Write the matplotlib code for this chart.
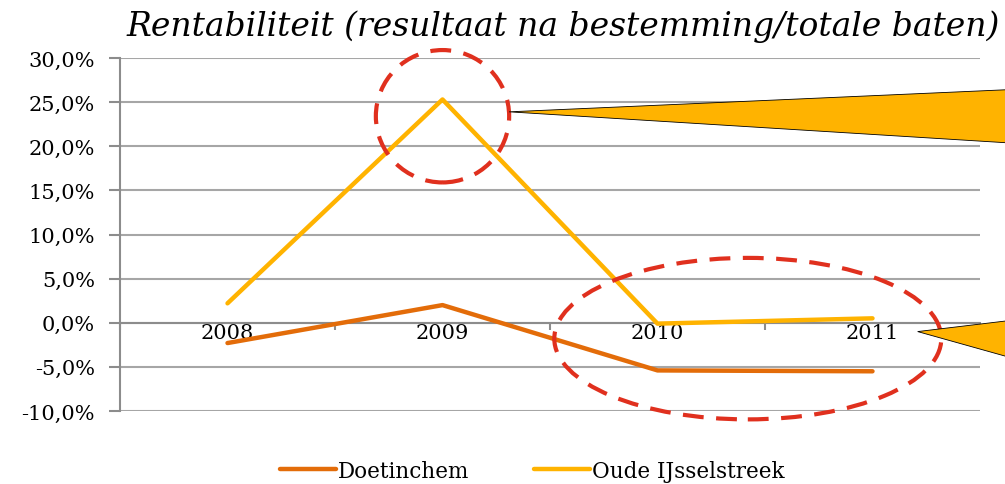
import matplotlib.pyplot as plt
import numpy as np
from matplotlib.patches import Ellipse, Polygon
from matplotlib.ticker import FuncFormatter, FixedLocator

years = ['2008', '2009', '2010', '2011']
doetinchem = [-2.3, 2.0, -5.4, -5.5]
oude_ijsselstreek = [2.2, 25.3, -0.1, 0.5]

plt.rcParams['font.family'] = ['DejaVu Serif']

fig = plt.figure(figsize=(10.05, 4.85), dpi=100)
ax = fig.add_axes([120 / 1005, 1 - 412 / 485, 860 / 1005, 353 / 485])

x = np.arange(len(years)) + 0.5
ax.plot(x, doetinchem, color='#E36C09', lw=3.2, solid_capstyle='round', label='Doetinchem', zorder=3)
ax.plot(x, oude_ijsselstreek, color='#FFB300', lw=3.2, solid_capstyle='round', label='Oude IJsselstreek', zorder=3)

ax.set_xlim(0, 4)
ax.set_ylim(-10, 30)
ax.set_yticks(np.arange(-10, 31, 5))
ax.yaxis.set_major_formatter(FuncFormatter(lambda v, p: f'{v:.1f}%'.replace('.', ',')))
ax.grid(axis='y', color='#A6A6A6', lw=1.5)
ax.set_axisbelow(True)

# category axis crosses at 0
ax.spines['bottom'].set_position(('data', 0))
ax.spines['bottom'].set_color('#8C8C8C')
ax.spines['bottom'].set_linewidth(1.5)
ax.spines['left'].set_color('#8C8C8C')
ax.spines['left'].set_linewidth(1.5)
ax.spines['top'].set_visible(False)
ax.spines['right'].set_visible(False)
ax.set_xticks(x)
ax.set_xticklabels(years)
ax.xaxis.set_minor_locator(FixedLocator([0, 1, 2, 3, 4]))
ax.tick_params(axis='x', which='major', length=0, pad=0, labelsize=15)
ax.tick_params(axis='x', which='minor', length=5, width=1.5, color='#8C8C8C')
ax.tick_params(axis='y', length=8, width=1.5, color='#8C8C8C', labelsize=15, pad=10)

fig.text(0.56, 0.925, 'Rentabiliteit (resultaat na bestemming/totale baten)',
         ha='center', va='baseline', fontsize=23.8, style='italic')

# annotation ellipses
red = '#E0301E'
ax.add_patch(Ellipse((1.5, 23.4), 0.62, 15, fill=False, ec=red, lw=3,
                     ls=(0, (5, 3)), clip_on=False, zorder=4))
ax.add_patch(Ellipse((2.92, -1.8), 1.8, 18.3, fill=False, ec=red, lw=3,
                     ls=(0, (5, 3)), clip_on=False, zorder=4))

# callout wedges
ax.add_patch(Polygon([(1.81, 23.9), (4.12, 26.4), (4.12, 20.4)], closed=True,
                     fc='#FFB300', ec='black', lw=0.6, clip_on=False, zorder=4))
ax.add_patch(Polygon([(3.71, -1.0), (4.12, 0.2), (4.12, -3.8)], closed=True,
                     fc='#FFB300', ec='black', lw=0.6, clip_on=False, zorder=4))

fig.legend(loc='lower center', bbox_to_anchor=(0.53, -0.035), ncol=2, frameon=False,
           fontsize=15.5, handlelength=2.6, columnspacing=3, handletextpad=0.1)

fig.savefig('out.png', dpi=100)
